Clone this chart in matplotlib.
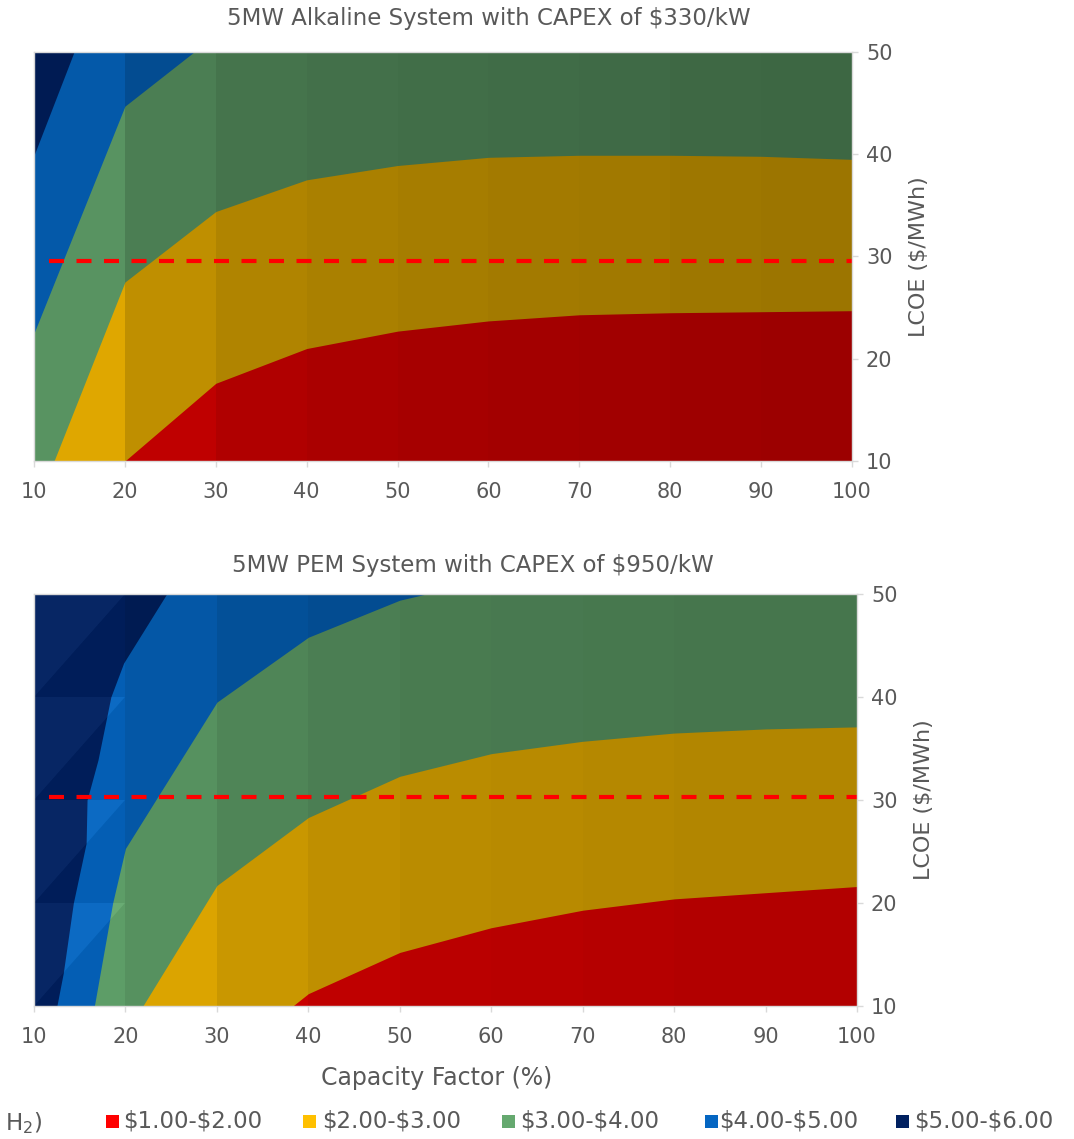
import matplotlib
matplotlib.use("Agg")
import matplotlib.pyplot as plt
from matplotlib.patches import Rectangle, Polygon

plt.rcParams['font.family'] = ['DejaVu Sans']

# ---------------- data ----------------
cf_ticks = [10, 20, 30, 40, 50, 60, 70, 80, 90, 100]
lcoe_ticks = [10, 20, 30, 40, 50]

band_labels = ['$1.00-$2.00', '$2.00-$3.00', '$3.00-$4.00', '$4.00-$5.00', '$5.00-$6.00']
band_colors = ['#FF0000', '#FFC000', '#65A96F', '#0566C2', '#002060']
legend_title_tail = 'H$_2$)'

alk_title = '5MW Alkaline System with CAPEX of $330/kW'
pem_title = '5MW PEM System with CAPEX of $950/kW'
x_label = 'Capacity Factor (%)'
y_label = 'LCOE ($/MWh)'

# Alkaline: LCOE (y) at which LCOH crosses each $/kg boundary, vs capacity factor
alk_b2_cf = [20, 30, 40, 50, 60, 70, 80, 90, 100]
alk_b2_lcoe = [10, 17.6, 21.0, 22.7, 23.7, 24.3, 24.5, 24.6, 24.7]
alk_b3_cf = [12.2, 20, 30, 40, 50, 60, 70, 80, 90, 100]
alk_b3_lcoe = [10, 27.5, 34.4, 37.5, 38.9, 39.7, 39.9, 39.9, 39.8, 39.5]
alk_b4_cf = [10, 20, 27.6, 100]
alk_b4_lcoe = [22.5, 44.7, 50, 50]
alk_b5_cf = [10, 14.4, 100]
alk_b5_lcoe = [39.9, 50, 50]
alk_ref_lcoe = 29.6

# PEM
pem_b2_cf = [38.3, 40, 50, 60, 70, 80, 90, 100]
pem_b2_lcoe = [10, 11.2, 15.2, 17.6, 19.3, 20.4, 21.0, 21.6]
pem_b3_cf = [21.9, 30, 40, 50, 60, 70, 80, 90, 100]
pem_b3_lcoe = [10, 21.7, 28.3, 32.3, 34.5, 35.7, 36.5, 36.9, 37.1]
pem_b4_cf = [16.6, 18.6, 20, 30, 40, 50, 52.9, 100]
pem_b4_lcoe = [10, 20.0, 25.3, 39.5, 45.8, 49.4, 50, 50]
pem_b5_cf = [12.5, 13.2, 14.3, 15.7, 15.8, 17.0, 18.4, 19.8, 24.5, 100]
pem_b5_lcoe = [10, 13.2, 20.0, 25.8, 30.0, 33.9, 40.0, 43.3, 50, 50]
pem_ref_lcoe = 30.3

ref_cf = [11.6, 100]

# ---------------- style ----------------
alk_shade = [0.875, 0.75, 0.69, 0.665, 0.65, 0.64, 0.63, 0.62, 0.61]
pem_shade = [0.93, 0.86, 0.79, 0.75, 0.73, 0.72, 0.71, 0.70, 0.70]
TXT = '#595959'
GRID = '#D9D9D9'
W, H = 1074, 1139


def esc(s):
    return s.replace('$', r'\$')


def draw(ax, bounds, shade, ref_lcoe, tri=False):
    ax.set_xlim(cf_ticks[0], cf_ticks[-1])
    ax.set_ylim(lcoe_ticks[0], lcoe_ticks[-1])
    ax.set_facecolor(band_colors[4])
    fill_cols = [band_colors[3], band_colors[2], band_colors[1], band_colors[0]]
    for (cf, lc), col in zip(bounds, fill_cols):
        ax.fill_between(cf, lcoe_ticks[0], lc, color=col, lw=0, zorder=1)
    # Excel-like 3D shading per column
    for i in range(len(cf_ticks) - 1):
        x0, x1 = cf_ticks[i], cf_ticks[i + 1]
        if tri and i == 0:
            for j in range(len(lcoe_ticks) - 1):
                y0, y1 = lcoe_ticks[j], lcoe_ticks[j + 1]
                ax.add_patch(Polygon([(x0, y0), (x1, y0), (x1, y1)], closed=True,
                                     fc='black', alpha=1 - shade[0], lw=0, zorder=2))
                ax.add_patch(Polygon([(x0, y0), (x0, y1), (x1, y1)], closed=True,
                                     fc='white', alpha=0.03, lw=0, zorder=2))
        else:
            ax.axvspan(x0, x1, color='black', alpha=1 - shade[i], lw=0, zorder=2)
    ax.plot(ref_cf, [ref_lcoe, ref_lcoe], color='#FF0000', lw=3,
            dashes=(3.6, 3.0), zorder=3)
    ax.yaxis.tick_right()
    ax.yaxis.set_label_position('right')
    ax.set_xticks(cf_ticks)
    ax.set_yticks(lcoe_ticks)
    ax.tick_params(axis='both', colors=GRID, labelcolor=TXT, labelsize=15,
                   length=4, width=1)
    ax.tick_params(axis='x', pad=11)
    ax.tick_params(axis='y', pad=6)
    for s in ax.spines.values():
        s.set_color(GRID)
        s.set_linewidth(1)
        s.set_zorder(4)
    ax.set_ylabel(esc(y_label), color=TXT, fontsize=16, rotation=90, labelpad=12)


fig = plt.figure(figsize=(W / 100, H / 100), dpi=100)

ax1 = fig.add_axes([34 / W, 1 - 461 / H, (852 - 34) / W, (461 - 52) / H])
draw(ax1, [(alk_b5_cf, alk_b5_lcoe), (alk_b4_cf, alk_b4_lcoe),
           (alk_b3_cf, alk_b3_lcoe), (alk_b2_cf, alk_b2_lcoe)],
     alk_shade, alk_ref_lcoe)

ax2 = fig.add_axes([34 / W, 1 - 1006 / H, (857 - 34) / W, (1006 - 594) / H])
draw(ax2, [(pem_b5_cf, pem_b5_lcoe), (pem_b4_cf, pem_b4_lcoe),
           (pem_b3_cf, pem_b3_lcoe), (pem_b2_cf, pem_b2_lcoe)],
     pem_shade, pem_ref_lcoe, tri=True)

fig.text(489 / W, 1 - 18 / H, esc(alk_title), ha='center', va='center',
         color=TXT, fontsize=16.5)
fig.text(473 / W, 1 - 565 / H, esc(pem_title), ha='center', va='center',
         color=TXT, fontsize=16.5)
fig.text(437 / W, 1 - 1078 / H, x_label, ha='center', va='center',
         color=TXT, fontsize=17)

# legend (bottom row)
leg_y = 1121
fig.text(5 / W, 1 - (leg_y + 2) / H, legend_title_tail, ha='left', va='center',
         color=TXT, fontsize=16.5)
sq_x = [106, 303, 502, 705, 896]
tx_x = [123, 322, 520, 719, 914]
for lab, col, sx, tx in zip(band_labels, band_colors, sq_x, tx_x):
    fig.patches.append(Rectangle((sx / W, 1 - (leg_y + 7) / H), 13 / W, 13 / H,
                                 transform=fig.transFigure, fc=col, ec='none'))
    fig.text(tx / W, 1 - leg_y / H, esc(lab), ha='left', va='center',
             color=TXT, fontsize=16.5)

fig.savefig('out.png', dpi=100)
